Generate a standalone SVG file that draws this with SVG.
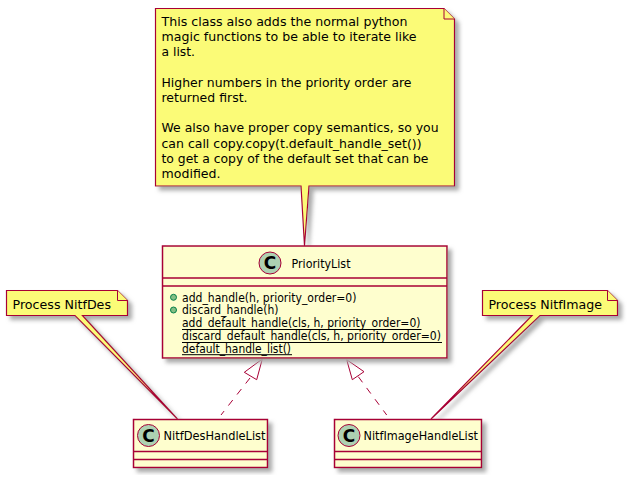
<svg xmlns="http://www.w3.org/2000/svg" width="628" height="477" viewBox="0 0 628 477">
<style>
text{font-family:"DejaVu Sans","Liberation Sans",sans-serif;fill:#000}
.n{font-size:12.8px}
.c{font-size:12.8px}
.m{font-size:11.5px}
.g{font-family:"DejaVu Sans",sans-serif;font-size:17px;font-weight:bold;text-anchor:middle}
.note{fill:#FBFB77;stroke:#A80036;stroke-width:1.2}
.fold{fill:#FBFB77;stroke:#A80036;stroke-width:1}
.box{fill:#FEFECE;stroke:#A80036;stroke-width:1.5}
.sep{stroke:#A80036;stroke-width:1.5;fill:none}
.spot{fill:#ADD1B2;stroke:#A80036;stroke-width:1}
.dot{fill:#84BE84;stroke:#038048;stroke-width:1}
.ul{stroke:#000;stroke-width:1;fill:none}
.dash{stroke:#A80036;stroke-width:1;stroke-dasharray:7 7;fill:none}
.head{fill:none;stroke:#A80036;stroke-width:1}
</style>
<defs>
<filter id="s" x="-10%" y="-10%" width="125%" height="125%">
<feGaussianBlur in="SourceAlpha" stdDeviation="2"/>
<feColorMatrix values="0 0 0 0 0.4 0 0 0 0 0.4 0 0 0 0 0.4 0 0 0 1 0"/>
<feOffset dx="4" dy="4" result="b"/>
<feMerge><feMergeNode in="b"/><feMergeNode in="SourceGraphic"/></feMerge>
</filter>
</defs>
<g id="connectors">
<path class="dash" d="M250 378L221 415"/>
<path class="head" d="M262.3 359L244.3 372.3L256.7 379.7Z"/>
<path class="dash" d="M358.3 376.7L386.7 415"/>
<path class="head" d="M346.7 359.7L352.3 379.7L364 371.7Z"/>
</g>
<g id="note-main">
<path class="note" filter="url(#s)" d="M155.5 8.5H444L454.5 19V186H309L304.5 246L301 186H155.5Z"/>
<path class="fold" d="M444 8.5V19H454.5"/>
<text class="n" x="161.5" y="26" textLength="246" lengthAdjust="spacingAndGlyphs">This class also adds the normal python</text>
<text class="n" x="161.5" y="41.2" textLength="255" lengthAdjust="spacingAndGlyphs">magic functions to be able to iterate like</text>
<text class="n" x="161.5" y="56.4" textLength="33.5" lengthAdjust="spacingAndGlyphs">a list.</text>
<text class="n" x="161.5" y="86.8" textLength="250" lengthAdjust="spacingAndGlyphs">Higher numbers in the priority order are</text>
<text class="n" x="161.5" y="102" textLength="86" lengthAdjust="spacingAndGlyphs">returned first.</text>
<text class="n" x="161.5" y="132.4" textLength="277" lengthAdjust="spacingAndGlyphs">We also have proper copy semantics, so you</text>
<text class="n" x="161.5" y="147.6" textLength="260" lengthAdjust="spacingAndGlyphs">can call copy.copy(t.default_handle_set())</text>
<text class="n" x="161.5" y="162.8" textLength="267" lengthAdjust="spacingAndGlyphs">to get a copy of the default set that can be</text>
<text class="n" x="161.5" y="178" textLength="59" lengthAdjust="spacingAndGlyphs">modified.</text>
</g>
<g id="PriorityList">
<rect class="box" filter="url(#s)" x="162.5" y="246" width="284.5" height="112"/>
<path class="sep" d="M162.5 278H447M162.5 286H447"/>
<circle class="spot" cx="270" cy="263" r="11"/>
<text class="g" x="270" y="269">C</text>
<text class="c" x="291.500" y="267.500" textLength="59" lengthAdjust="spacingAndGlyphs">PriorityList</text>
<circle class="dot" cx="173.500" cy="297.300" r="3"/>
<circle class="dot" cx="173.500" cy="310" r="3"/>
<text class="m" x="182" y="301.500" textLength="174.500" lengthAdjust="spacingAndGlyphs">add_handle(h, priority_order=0)</text>
<text class="m" x="182" y="314.300" textLength="96.500" lengthAdjust="spacingAndGlyphs">discard_handle(h)</text>
<text class="m" x="182" y="327.100" textLength="238.500" lengthAdjust="spacingAndGlyphs">add_default_handle(cls, h, priority_order=0)</text>
<text class="m" x="182" y="339.900" textLength="259" lengthAdjust="spacingAndGlyphs">discard_default_handle(cls, h, priority_order=0)</text>
<text class="m" x="182" y="352.700" textLength="109" lengthAdjust="spacingAndGlyphs">default_handle_list()</text>
<path class="ul" d="M182 329.500H421.500M182 342.500H442M182 354.700H292"/>
</g>
<g id="note-des">
<path class="note" filter="url(#s)" d="M6.500 290.500H117.500L127.500 300.500V315.500H82.500L177.500 419L75 315.500H6.500Z"/>
<path class="fold" d="M117.500 290.500V300.500H127.500"/>
<text class="n" x="12.500" y="308.500" textLength="98.500" lengthAdjust="spacingAndGlyphs">Process NitfDes</text>
</g>
<g id="note-image">
<path class="note" filter="url(#s)" d="M482.500 290.500H607.500L617.500 300.500V315.500H540L431 419L532 315.500H482.500Z"/>
<path class="fold" d="M607.500 290.500V300.500H617.500"/>
<text class="n" x="488.500" y="308.500" textLength="113.500" lengthAdjust="spacingAndGlyphs">Process NitfImage</text>
</g>
<g id="NitfDesHandleList">
<rect class="box" filter="url(#s)" x="133.500" y="419.500" width="134" height="48"/>
<path class="sep" d="M133.500 451.500H267.500M133.500 459.500H267.500"/>
<circle class="spot" cx="148.500" cy="435.500" r="11"/>
<text class="g" x="148.500" y="441.500">C</text>
<text class="c" x="163.500" y="440" textLength="102" lengthAdjust="spacingAndGlyphs">NitfDesHandleList</text>
</g>
<g id="NitfImageHandleList">
<rect class="box" filter="url(#s)" x="334.500" y="419.500" width="147" height="48"/>
<path class="sep" d="M334.500 451.500H481.500M334.500 459.500H481.500"/>
<circle class="spot" cx="349" cy="435.500" r="11"/>
<text class="g" x="349" y="441.500">C</text>
<text class="c" x="363.500" y="440" textLength="114.500" lengthAdjust="spacingAndGlyphs">NitfImageHandleList</text>
</g>
</svg>
